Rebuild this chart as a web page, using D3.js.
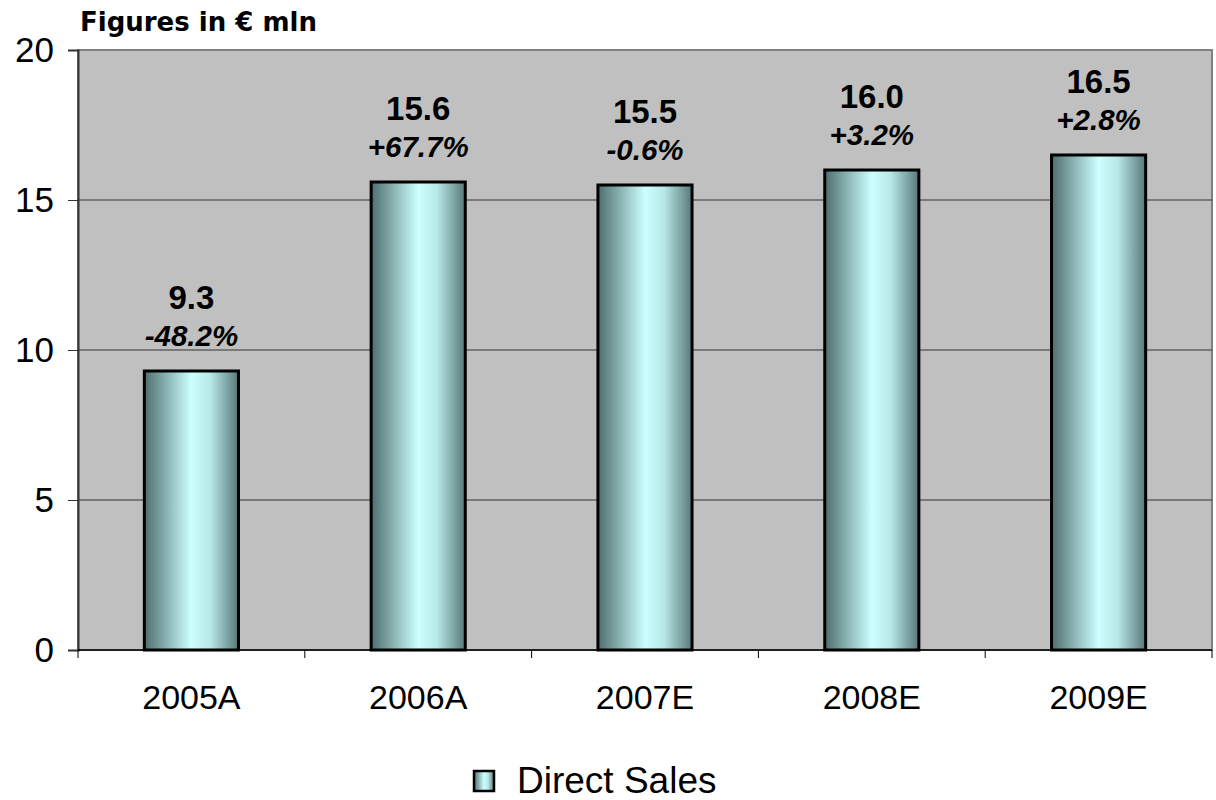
<!DOCTYPE html>
<meta charset="utf-8">
<script src="https://d3js.org/d3.v7.js"></script>
<style>
body { margin: 0; background: #fff; }
text { font-family: "Liberation Sans", Arial, sans-serif; }
</style>
<div id="chart"></div>
<script>
// data
const years = ["2005A", "2006A", "2007E", "2008E", "2009E"];
const sales = [9.3, 15.6, 15.5, 16.0, 16.5];
const growth = ["-48.2%", "+67.7%", "-0.6%", "+3.2%", "+2.8%"];
const yTicks = [0, 5, 10, 15, 20];

const W = 1216, H = 800;
const plot = {left: 78, right: 1212, top: 50, bottom: 650};

const svg = d3.select("#chart").append("svg")
  .attr("width", W).attr("height", H);

const defs = svg.append("defs");
const grad = defs.append("linearGradient").attr("id", "barGrad")
  .attr("x1", "0%").attr("x2", "100%").attr("y1", "0%").attr("y2", "0%");
grad.append("stop").attr("offset", "0%").attr("stop-color", "#4f6e6e");
grad.append("stop").attr("offset", "50%").attr("stop-color", "#ccffff");
grad.append("stop").attr("offset", "70%").attr("stop-color", "#b8e8e8");
grad.append("stop").attr("offset", "100%").attr("stop-color", "#587878");

const x = d3.scaleBand().domain(years)
  .range([plot.left, plot.right])
  .paddingInner(0.585).paddingOuter(0.2925);
const y = d3.scaleLinear().domain([0, 20]).range([plot.bottom, plot.top]);

// plot background
svg.append("rect")
  .attr("x", plot.left).attr("y", plot.top)
  .attr("width", plot.right - plot.left).attr("height", plot.bottom - plot.top)
  .attr("fill", "#c0c0c0")
  .attr("stroke", "#808080").attr("stroke-width", 2);

// gridlines
svg.append("g").selectAll("line")
  .data(yTicks.filter(d => d > 0 && d < 20))
  .enter().append("line")
  .attr("x1", plot.left).attr("x2", plot.right)
  .attr("y1", d => y(d)).attr("y2", d => y(d))
  .attr("stroke", "#333").attr("stroke-width", 1);

// y axis
const yAxis = svg.append("g")
  .attr("transform", `translate(${plot.left},0)`)
  .call(d3.axisLeft(y).tickValues(yTicks).tickSize(10).tickPadding(14));
yAxis.select(".domain").attr("stroke", "#333").attr("stroke-width", 2);
yAxis.selectAll(".tick line").attr("stroke", "#333");
yAxis.selectAll("text").style("font-size", "35px").attr("fill", "#000")
  .style("font-family", "'Liberation Sans', Arial, sans-serif");

// x axis line + boundary ticks
svg.append("line")
  .attr("x1", plot.left).attr("x2", plot.right)
  .attr("y1", plot.bottom).attr("y2", plot.bottom)
  .attr("stroke", "#000").attr("stroke-width", 1.5);
const step = x.step();
svg.append("g").selectAll("line")
  .data(d3.range(years.length + 1))
  .enter().append("line")
  .attr("x1", i => plot.left + i * step).attr("x2", i => plot.left + i * step)
  .attr("y1", plot.bottom).attr("y2", plot.bottom + 8)
  .attr("stroke", "#000");

svg.append("g").selectAll("text")
  .data(years)
  .enter().append("text")
  .attr("x", d => x(d) + x.bandwidth() / 2)
  .attr("y", 709)
  .attr("text-anchor", "middle")
  .style("font-size", "34px")
  .text(d => d);

// bars
svg.append("g").selectAll("rect")
  .data(sales)
  .enter().append("rect")
  .attr("x", (d, i) => x(years[i]))
  .attr("y", d => y(d))
  .attr("width", x.bandwidth())
  .attr("height", d => y(0) - y(d))
  .attr("fill", "url(#barGrad)")
  .attr("stroke", "#000").attr("stroke-width", 3);

// value labels
svg.append("g").selectAll("text")
  .data(sales)
  .enter().append("text")
  .attr("x", (d, i) => x(years[i]) + x.bandwidth() / 2)
  .attr("y", d => y(d) - 62)
  .attr("text-anchor", "middle")
  .style("font-size", "33px").style("font-weight", "bold")
  .text(d => d.toFixed(1));

svg.append("g").selectAll("text")
  .data(growth)
  .enter().append("text")
  .attr("x", (d, i) => x(years[i]) + x.bandwidth() / 2)
  .attr("y", (d, i) => y(sales[i]) - 25)
  .attr("text-anchor", "middle")
  .style("font-size", "29.5px").style("font-weight", "bold").style("font-style", "italic")
  .text(d => d);

// title
svg.append("text")
  .attr("x", 80).attr("y", 31)
  .style("font-family", "'DejaVu Sans', Verdana, sans-serif")
  .style("font-size", "26px").style("font-weight", "bold")
  .text("Figures in € mln");

// legend
svg.append("rect")
  .attr("x", 474).attr("y", 771).attr("width", 20).attr("height", 20)
  .attr("fill", "url(#barGrad)")
  .attr("stroke", "#000").attr("stroke-width", 2.5);
svg.append("text")
  .attr("x", 517).attr("y", 793)
  .style("font-size", "37px")
  .text("Direct Sales");
</script>
